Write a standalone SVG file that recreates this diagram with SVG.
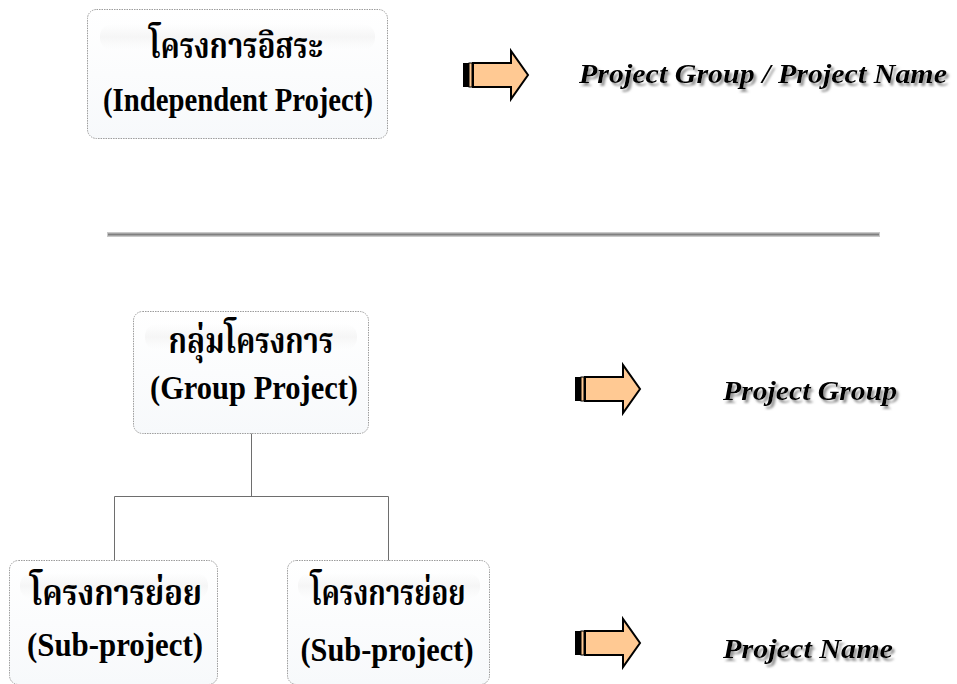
<svg xmlns="http://www.w3.org/2000/svg" width="957" height="684" viewBox="0 0 957 684">
  <style>
    .box { fill: url(#boxFill); stroke: #9c9c9c; stroke-width: 1; stroke-dasharray: 1.5 1; }
    .gloss { fill: url(#glossFill); }
    .th { font-family: "Noto Serif Thai", "Noto Sans Thai", "Liberation Serif", serif; font-weight: bold; font-size: 35px; fill: #000; text-anchor: middle; }
    .en { font-family: "Liberation Serif", "DejaVu Serif", serif; font-weight: bold; font-size: 33px; fill: #000; text-anchor: middle; }
    .lbl { font-family: "Liberation Serif", "DejaVu Serif", serif; font-weight: bold; font-style: italic; font-size: 27px; fill: #000; }
    .conn { stroke: #6e6e6e; stroke-width: 1; fill: none; }
    .arrowBody { fill: #ffc993; stroke: #000; stroke-width: 2; stroke-linejoin: miter; }
  </style>
  <defs>
    <linearGradient id="boxFill" x1="0" y1="0" x2="0" y2="1">
      <stop offset="0" stop-color="#ffffff"/>
      <stop offset="1" stop-color="#f7f9fb"/>
    </linearGradient>
    <linearGradient id="glossFill" x1="0" y1="0" x2="0" y2="1">
      <stop offset="0" stop-color="#ededed" stop-opacity="0"/>
      <stop offset="0.5" stop-color="#ececec" stop-opacity="0.45"/>
      <stop offset="1" stop-color="#f2f2f2" stop-opacity="0"/>
    </linearGradient>
    <filter id="shadow" filterUnits="userSpaceOnUse" x="0" y="0" width="957" height="684">
      <feDropShadow dx="2.5" dy="3" stdDeviation="1" flood-color="#8c8c8c" flood-opacity="0.9"/>
    </filter>
    <!-- striped block arrow, drawn at origin, 66 wide, centred on y=0 -->
    <g id="blockArrow">
      <path class="arrowBody" d="M10,-12 H48 V-24 L65,0 L48,24 V12 H10 Z"/>
      <rect x="0" y="-12" width="6" height="24" fill="#000"/>
      <rect x="6" y="-12" width="3" height="24" fill="#ffc993" stroke="#000" stroke-width="1"/>
    </g>
  </defs>

  <rect width="957" height="684" fill="#ffffff"/>

  <!-- divider between the two layouts -->
  <g id="divider">
    <rect x="107" y="232" width="773" height="5" fill="#c9c9c9"/>
    <line x1="108" y1="234.5" x2="879" y2="234.5" stroke="#7f7f7f" stroke-width="2"/>
  </g>

  <!-- tree connectors -->
  <g id="connectors">
    <path class="conn" d="M251.5,433 V496.5 M114.5,496.5 H388.5 M114.5,496.5 V561 M388.5,496.5 V561"/>
  </g>

  <!-- nodes -->
  <g id="independent">
    <rect class="box" x="87.5" y="9.5" width="300" height="129" rx="9"/>
    <rect class="gloss" x="100" y="24" width="275" height="26" rx="12"/>
    <text class="th" x="236" y="58" textLength="174" lengthAdjust="spacingAndGlyphs">โครงการอิสระ</text>
    <text class="en" x="238" y="111" textLength="270" lengthAdjust="spacingAndGlyphs">(Independent Project)</text>
  </g>

  <g id="group">
    <rect class="box" x="133.5" y="311.5" width="235" height="122" rx="9"/>
    <rect class="gloss" x="145" y="324" width="212" height="26" rx="12"/>
    <text class="th" x="251" y="353" textLength="165" lengthAdjust="spacingAndGlyphs">กลุ่มโครงการ</text>
    <text class="en" x="254" y="399" textLength="208" lengthAdjust="spacingAndGlyphs">(Group Project)</text>
  </g>

  <g id="sub1">
    <rect class="box" x="9.5" y="560.5" width="208" height="124" rx="9"/>
    <rect class="gloss" x="20" y="573" width="188" height="26" rx="12"/>
    <text class="th" x="116" y="605" textLength="172" lengthAdjust="spacingAndGlyphs">โครงการย่อย</text>
    <text class="en" x="115" y="656" textLength="176" lengthAdjust="spacingAndGlyphs">(Sub-project)</text>
  </g>

  <g id="sub2">
    <rect class="box" x="287.5" y="560.5" width="202" height="124" rx="9"/>
    <rect class="gloss" x="298" y="573" width="182" height="26" rx="12"/>
    <text class="th" x="388" y="605" textLength="155" lengthAdjust="spacingAndGlyphs">โครงการย่อย</text>
    <text class="en" x="387" y="661" textLength="173" lengthAdjust="spacingAndGlyphs">(Sub-project)</text>
  </g>

  <!-- level labels (drop shadow applied to each label group) -->
  <g id="label-top">
    <use href="#blockArrow" x="463" y="75"/>
    <g filter="url(#shadow)">
      <text class="lbl" x="579" y="83" textLength="368" lengthAdjust="spacingAndGlyphs">Project Group / Project Name</text>
    </g>
  </g>

  <g id="label-group">
    <use href="#blockArrow" x="575" y="389"/>
    <g filter="url(#shadow)">
      <text class="lbl" x="723" y="400" textLength="174" lengthAdjust="spacingAndGlyphs">Project Group</text>
    </g>
  </g>

  <g id="label-name">
    <use href="#blockArrow" x="575" y="643"/>
    <g filter="url(#shadow)">
      <text class="lbl" x="723" y="658" textLength="170" lengthAdjust="spacingAndGlyphs">Project Name</text>
    </g>
  </g>
</svg>
